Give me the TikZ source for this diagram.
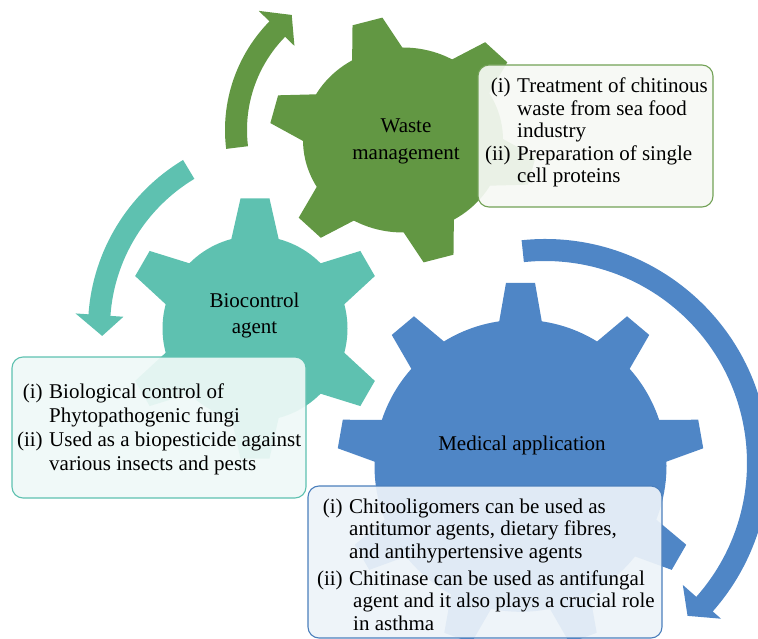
\documentclass[tikz,border=0pt]{standalone}
\usepackage{fontspec}
\setmainfont{Liberation Serif}
\definecolor{gGreen}{RGB}{98,151,67}
\definecolor{gTeal}{RGB}{94,193,176}
\definecolor{gBlue}{RGB}{79,134,198}
\begin{document}
\begin{tikzpicture}[x=1pt,y=1pt,
  gearlabel/.style={anchor=base, inner sep=0pt},
  infobox/.style={rounded corners=11pt, line width=1.1pt, fill opacity=0.92, inner sep=0pt},
  boxtext/.style={anchor=base west, inner sep=0pt}]
\useasboundingbox (0,0) rectangle (758,-639);
\clip (0,0) rectangle (758,-639);

% ---- circular arrows ----
\begin{scope}[shift={(380,-130)}]
  \fill[gGreen] (187:155) arc[start angle=187, end angle=135.5, radius=155]
    -- (135.5:170) -- (127.5:145) -- (135.5:120) -- (135.5:133)
    arc[start angle=135.5, end angle=187, radius=133] -- cycle;
\end{scope}
\begin{scope}[shift={(284,-328)}]
  \fill[gTeal] (121:196) arc[start angle=121, end angle=176, radius=196]
    -- (176:209) -- (182.5:182) -- (176:161) -- (176:174)
    arc[start angle=176, end angle=121, radius=174] -- cycle;
\end{scope}
\begin{scope}[shift={(545,-463)}]
  \fill[gBlue] (96:224) arc[start angle=96, end angle=-41.5, radius=224]
    -- (-41.5:235) -- (-47:209) -- (-41.5:184) -- (-41.5:202)
    arc[start angle=-41.5, end angle=96, radius=202] -- cycle;
\end{scope}

% ---- gears ----
\begin{scope}[shift={(403,-140)}, yscale=0.925]
  \fill[gGreen] (0,0) circle[radius=100];
  \foreach \a in {45.5,105.5,165.5,225.5,285.5,345.5}
    \fill[gGreen, rotate=\a] (88,-28.5) -- (133,-15.5) -- (133,15.5) -- (88,28.5) -- cycle;
\end{scope}
\begin{scope}[shift={(255,-328.5)}]
  \fill[gTeal] (0,0) circle[radius=92.5];
  \foreach \a in {30,90,150,210,270,330}
    \fill[gTeal, rotate=\a] (80,-25.8) -- (130,-14.5) -- (130,14.5) -- (80,25.8) -- cycle;
\end{scope}
\begin{scope}[shift={(520.5,-465.8)}]
  \fill[gBlue] (0,0) circle[radius=146];
  \foreach \a in {10,50,90,130,170,210,250,290,330}
    \fill[gBlue, rotate=\a] (134,-23.1) -- (183,-14.5) -- (183,14.5) -- (134,23.1) -- cycle;
\end{scope}

% ---- gear labels ----
\node[gearlabel, font=\fontsize{21}{27}\selectfont] (wastelabel) at (406,-133)
  {\begin{tabular}[t]{@{}c@{}}Waste\\management\end{tabular}};
\node[gearlabel, font=\fontsize{21}{26}\selectfont] (biolabel) at (254.5,-307)
  {\begin{tabular}[t]{@{}c@{}}Biocontrol\\agent\end{tabular}};
\node[gearlabel, font=\fontsize{21}{26}\selectfont] (medlabel) at (522,-450)
  {Medical application};

% ---- info boxes ----
\node[infobox, draw=gGreen!90!white, fill=gGreen!6!white,
  minimum width=235pt, minimum height=142pt] (wastebox) at (595.5,-136) {};
\node[infobox, draw=gTeal, fill=gTeal!10!white,
  minimum width=294pt, minimum height=141pt] (biobox) at (159,-427.5) {};
\node[infobox, draw=gBlue!95!black, fill=gBlue!10!white,
  minimum width=354pt, minimum height=152pt] (medbox) at (485,-562) {};

% ---- box texts ----
\node[boxtext, font=\fontsize{21}{22.5}\selectfont] (wastetext) at (480.5,-93)
  {\begin{tabular}[t]{@{}l@{\hspace{6.5pt}}l@{}}
   \makebox[30pt][r]{(i)} & Treatment of chitinous\\
   & waste from sea food\\
   & industry\\
   \makebox[30pt][r]{(ii)} & Preparation of single\\
   & cell proteins
   \end{tabular}};
\node[boxtext, font=\fontsize{21}{24}\selectfont] (biotext) at (12.5,-398)
  {\begin{tabular}[t]{@{}l@{\hspace{6.5pt}}l@{}}
   \makebox[30pt][r]{(i)} & Biological control of\\
   & Phytopathogenic fungi\\
   \makebox[30pt][r]{(ii)} & Used as a biopesticide against\\
   & various insects and pests
   \end{tabular}};
\node[boxtext, font=\fontsize{21}{22.5}\selectfont] (medtext) at (312.5,-513)
  {\begin{tabular}[t]{@{}l@{\hspace{6.5pt}}l@{}}
   \makebox[30pt][r]{(i)} & Chitooligomers can be used as\\
   & antitumor agents, dietary fibres,\\
   & and antihypertensive agents\\[4.5pt]
   \makebox[30pt][r]{(ii)} & Chitinase can be used as antifungal\\
   & \hspace{4pt}agent and it also plays a crucial role\\
   & \hspace{4pt}in asthma
   \end{tabular}};
\end{tikzpicture}
\end{document}
